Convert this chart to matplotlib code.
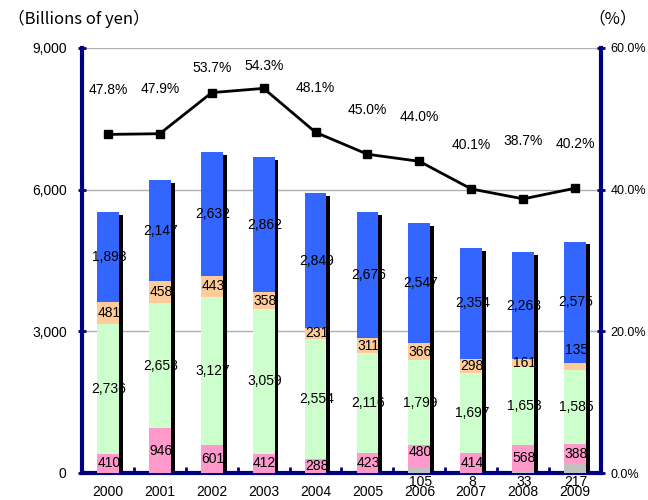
import matplotlib.pyplot as plt
import numpy as np

plt.rcParams['font.family'] = ['Noto Sans CJK JP', 'DejaVu Sans']

years = ['2000', '2001', '2002', '2003', '2004', '2005', '2006', '2007', '2008', '2009']
gray = [0, 0, 0, 0, 0, 0, 105, 8, 33, 217]
pink = [410, 946, 601, 412, 288, 423, 480, 414, 568, 388]
green = [2736, 2653, 3127, 3059, 2554, 2116, 1799, 1697, 1653, 1585]
orange = [481, 458, 443, 358, 231, 311, 366, 298, 161, 135]
blue = [1893, 2147, 2632, 2862, 2849, 2676, 2547, 2354, 2263, 2575]
ratio = [47.8, 47.9, 53.7, 54.3, 48.1, 45.0, 44.0, 40.1, 38.7, 40.2]

navy = '#000080'
colors = ['#C0C0C0', '#FF99CC', '#CCFFCC', '#FFCC99', '#3366FF']
series = [gray, pink, green, orange, blue]
lat = ['Liberation Sans', 'DejaVu Sans']

fig = plt.figure(figsize=(6.48, 5.0), dpi=100)
ax = fig.add_axes([0.1265, 0.054, 0.801, 0.85])
x = np.arange(len(years))
w = 0.42

# shadow behind the stacks
totals = np.sum(series, axis=0)
ax.bar(x + 0.075, totals - 60, w, color='black', zorder=2)

bottom = np.zeros(len(years))
for vals, col in zip(series, colors):
    ax.bar(x, vals, w, bottom=bottom, color=col, zorder=3)
    bottom += np.array(vals)

# value labels
bottom = np.zeros(len(years))
for k, vals in enumerate(series):
    for i, v in enumerate(vals):
        if v == 0:
            continue
        yc = bottom[i] + v / 2
        if k == 0:
            yc = -200
        elif k == 1 and i == 6:
            yc = bottom[i] + v - 150
        elif k == 3 and i == 9:
            yc = bottom[i] + v + 280
        ax.text(i + 0.02, yc, f'{v:,}', ha='center', va='center', fontsize=10,
                family=lat, zorder=5, clip_on=False)
    bottom += np.array(vals)

ax.set_xlim(-0.5, len(years) - 0.5)
ax.set_ylim(0, 9000)
ax.set_yticks([0, 3000, 6000, 9000])
ax.set_yticklabels(['0', '3,000', '6,000', '9,000'], family=lat)
ax.set_xticks(x)
ax.set_xticklabels(years, family=lat)
ax.tick_params(axis='x', length=0, pad=9, labelsize=10)
ax.set_xticks(np.arange(0.5, len(years) - 0.5), minor=True)
ax.tick_params(axis='x', which='minor', direction='in', length=4, width=2, color=navy)
ax.tick_params(axis='y', direction='inout', length=6, width=2, color=navy, labelsize=10, pad=8)
ax.grid(axis='y', color='#B0B0B0', lw=1, zorder=0)
for s in ['left', 'bottom']:
    ax.spines[s].set_color(navy)
    ax.spines[s].set_linewidth(3)
ax.spines['top'].set_visible(False)
ax.spines['right'].set_visible(False)

ax2 = ax.twinx()
ax2.plot(x, ratio, color='black', lw=2, marker='s', ms=6, zorder=6)
label_off = [32, 32, 18, 16, 32, 32, 32, 32, 42, 32]
for i, r in enumerate(ratio):
    ax2.annotate(f'{r:.1f}%', (i, r), xytext=(0, label_off[i]), textcoords='offset points',
                 ha='center', va='center', fontsize=10, family=lat)
ax2.set_ylim(0, 60)
ax2.set_yticks([0, 20, 40, 60])
ax2.set_yticklabels(['0.0%', '20.0%', '40.0%', '60.0%'], family=lat)
ax2.tick_params(axis='y', direction='inout', length=6, width=2, color=navy, labelsize=9, pad=4)
for s in ['left', 'bottom', 'top']:
    ax2.spines[s].set_visible(False)
ax2.spines['right'].set_color(navy)
ax2.spines['right'].set_linewidth(3)

fig.text(0.012, 0.962, '（Billions of yen）', fontsize=12, va='center')
fig.text(0.945, 0.962, '（%）', fontsize=12, va='center', ha='center')

fig.savefig('out.png', dpi=100)
